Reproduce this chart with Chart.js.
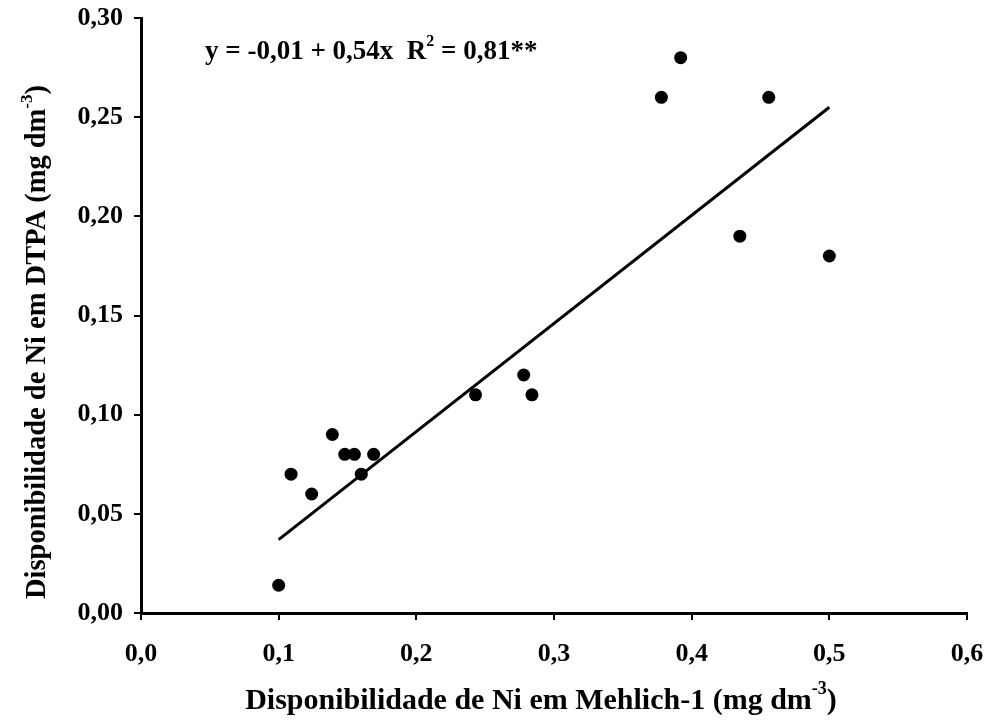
<!DOCTYPE html>
<html>
<head>
<meta charset="utf-8">
<script src="https://cdn.jsdelivr.net/npm/chart.js@4"></script>
<style>
  body { margin: 0; background: #fff; }
  canvas { display: block; }
</style>
</head>
<body>
<canvas id="chart" width="990" height="723"></canvas>
<script>
// Ni Mehlich-1 (x) vs Ni DTPA (y)
const mehlichX = [0.100, 0.109, 0.124, 0.139, 0.148, 0.155, 0.160, 0.169, 0.243, 0.278, 0.284, 0.378, 0.392, 0.456, 0.435, 0.500];
const dtpaY    = [0.014, 0.070, 0.060, 0.090, 0.080, 0.080, 0.070, 0.080, 0.110, 0.120, 0.110, 0.260, 0.280, 0.260, 0.190, 0.180];

// fitted line end points
const fitX = [0.100, 0.500];
const fitY = [0.037, 0.255];

const xTitle = ["Disponibilidade de Ni em Mehlich-1 (mg dm", "-3", ")"];
const yTitle = ["Disponibilidade de Ni em DTPA (mg dm", "-3", ")"];
const eqText = ["y = -0,01 + 0,54x  R", "2", " = 0,81**"];

const FONT = '"Liberation Serif", "Times New Roman", serif';

// draws [normal, superscript, normal] centred or left-aligned at (x, y)
function drawRich(ctx, parts, x, y, size, align) {
  const big = "bold " + size + "px " + FONT;
  const small = "bold " + Math.round(size * 0.6) + "px " + FONT;
  ctx.font = big;
  const w0 = ctx.measureText(parts[0]).width;
  const w2 = ctx.measureText(parts[2]).width;
  ctx.font = small;
  const w1 = ctx.measureText(parts[1]).width;
  let sx = align === "center" ? x - (w0 + w1 + w2) / 2 : x;
  ctx.textBaseline = "middle";
  ctx.textAlign = "left";
  ctx.fillStyle = "#000";
  ctx.font = big;
  ctx.fillText(parts[0], sx, y);
  ctx.font = small;
  ctx.fillText(parts[1], sx + w0, y - size * 0.38);
  ctx.font = big;
  ctx.fillText(parts[2], sx + w0 + w1, y);
}

const textPlugin = {
  id: "texts",
  afterDraw(chart) {
    const ctx = chart.ctx;
    ctx.save();
    drawRich(ctx, eqText, 205, 52, 27, "left");
    drawRich(ctx, xTitle, 541, 701, 30, "center");
    ctx.translate(38, 342);
    ctx.rotate(-Math.PI / 2);
    drawRich(ctx, yTitle, 0, 0, 28.5, "center");
    ctx.restore();
  }
};

const scatterData = mehlichX.map((x, i) => ({ x: x, y: dtpaY[i] }));
const fitData = fitX.map((x, i) => ({ x: x, y: fitY[i] }));

new Chart(document.getElementById("chart").getContext("2d"), {
  type: "scatter",
  data: {
    datasets: [
      {
        type: "line",
        data: fitData,
        borderColor: "#000",
        borderWidth: 3,
        pointRadius: 0,
        fill: false,
        tension: 0
      },
      {
        data: scatterData,
        backgroundColor: "#000",
        borderWidth: 0,
        pointRadius: 6.5
      }
    ]
  },
  options: {
    responsive: false,
    animation: false,
    layout: { padding: { top: 18, right: 23, left: 0, bottom: 0 } },
    plugins: { legend: { display: false }, tooltip: { enabled: false } },
    scales: {
      x: {
        type: "linear",
        min: 0,
        max: 0.6,
        afterFit(scale) {
          scale.height = 110;
          scale.paddingLeft = 0;
          scale.paddingRight = 0;
        },
        border: { color: "#000", width: 3 },
        grid: { drawOnChartArea: false, color: "#000", lineWidth: 2, tickLength: 7 },
        ticks: {
          stepSize: 0.1,
          color: "#000",
          padding: 19,
          font: { family: FONT, size: 26, weight: "bold" },
          maxRotation: 0,
          callback: v => v.toFixed(1).replace(".", ",")
        }
      },
      y: {
        type: "linear",
        min: 0,
        max: 0.3,
        afterFit(scale) {
          scale.width = 141;
          scale.paddingTop = 0;
          scale.paddingBottom = 0;
        },
        border: { color: "#000", width: 3 },
        grid: { drawOnChartArea: false, color: "#000", lineWidth: 2, tickLength: 7 },
        ticks: {
          stepSize: 0.05,
          color: "#000",
          padding: 11,
          font: { family: FONT, size: 26, weight: "bold" },
          callback: v => v.toFixed(2).replace(".", ",")
        }
      }
    }
  },
  plugins: [textPlugin]
});
</script>
</body>
</html>
